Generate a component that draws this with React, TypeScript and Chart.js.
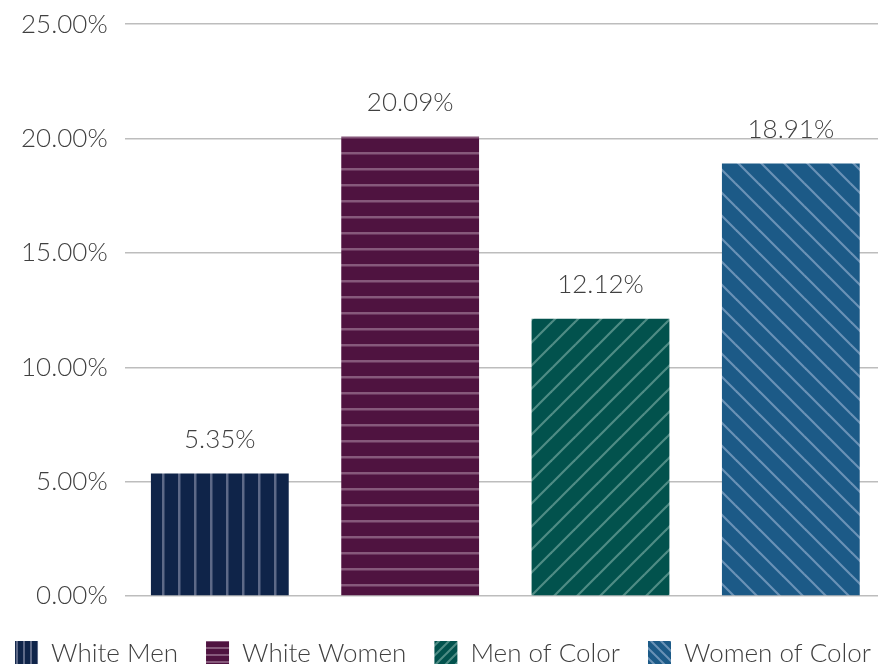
import React, { useEffect, useRef } from "react";
import { Chart, registerables } from "chart.js";

Chart.register(...registerables);

const categories = ["White Men", "White Women", "Men of Color", "Women of Color"];
const values = [5.35, 20.09, 12.12, 18.91];
const yTicks = [0, 5, 10, 15, 20, 25];
const baseColors = ["#0f2449", "#4f1340", "#02524d", "#1c5a87"];
const stripeColors = ["#5d6987", "#86597b", "#4f8c85", "#6a92b6"];
const patternKinds = ["vertical", "horizontal", "slash", "backslash"];

const FONT = "'Lato Light', Lato, 'Open Sans', sans-serif";
const TEXT_COLOR = "#404040";

function makePattern(kind: string, base: string, stripe: string, scale: number): CanvasPattern | string {
  const c = document.createElement("canvas");
  const diag = kind === "slash" || kind === "backslash";
  const s = Math.round((diag ? 23 : 16) * scale);
  c.width = s;
  c.height = s;
  const ctx = c.getContext("2d");
  if (!ctx) return base;
  ctx.fillStyle = base;
  ctx.fillRect(0, 0, s, s);
  ctx.strokeStyle = stripe;
  ctx.fillStyle = stripe;
  const w = scale < 1 ? 2 : 2.5;
  if (kind === "vertical") {
    ctx.fillRect(2, 0, w, s);
  } else if (kind === "horizontal") {
    ctx.fillRect(0, Math.floor(s / 2), s, w);
  } else {
    ctx.lineWidth = scale < 1 ? 2 : 2.2;
    const segs =
      kind === "slash"
        ? [
            [-2, s + 2, s + 2, -2],
            [-2, 2, 2, -2],
            [s - 2, s + 2, s + 2, s - 2],
          ]
        : [
            [-2, -2, s + 2, s + 2],
            [s - 2, -2, s + 2, 2],
            [-2, s - 2, 2, s + 2],
          ];
    for (const [x1, y1, x2, y2] of segs) {
      ctx.beginPath();
      ctx.moveTo(x1, y1);
      ctx.lineTo(x2, y2);
      ctx.stroke();
    }
  }
  const p = ctx.createPattern(c, "repeat");
  return p || base;
}

const valueLabelPlugin = {
  id: "valueLabels",
  afterDatasetsDraw(chart: any) {
    const ctx = chart.ctx;
    const meta = chart.getDatasetMeta(0);
    ctx.save();
    ctx.font = `300 26px ${FONT}`;
    ctx.fillStyle = TEXT_COLOR;
    ctx.textAlign = "center";
    ctx.textBaseline = "middle";
    meta.data.forEach((bar: any, i: number) => {
      ctx.fillText(values[i].toFixed(2) + "%", bar.x, bar.y - 34);
    });
    ctx.restore();
  },
};

function makeLegendPlugin(legendPatterns: (CanvasPattern | string)[]) {
  return {
    id: "patternLegend",
    afterDraw(chart: any) {
      const ctx = chart.ctx;
      const box = 23;
      const textGap = 13;
      const itemGap = 28;
      ctx.save();
      ctx.font = `300 26px ${FONT}`;
      const widths = categories.map((c) => box + textGap + ctx.measureText(c).width);
      const total = widths.reduce((a, b) => a + b, 0) + itemGap * (categories.length - 1);
      let x = chart.width / 2 - total / 2;
      const cy = chart.height - 16.5;
      categories.forEach((c, i) => {
        ctx.fillStyle = legendPatterns[i] as any;
        ctx.fillRect(x, cy - box / 2, box, box);
        ctx.fillStyle = TEXT_COLOR;
        ctx.textAlign = "left";
        ctx.textBaseline = "middle";
        ctx.fillText(c, x + box + textGap, cy + 1);
        x += widths[i] + itemGap;
      });
      ctx.restore();
    },
  };
}

export default function App() {
  const ref = useRef<HTMLCanvasElement>(null);
  useEffect(() => {
    if (!ref.current) return;
    const patterns = patternKinds.map((k, i) => makePattern(k, baseColors[i], stripeColors[i], 1));
    const legendPatterns = patternKinds.map((k, i) => makePattern(k, baseColors[i], stripeColors[i], 0.42));
    const chart = new Chart(ref.current, {
      type: "bar",
      data: {
        labels: categories,
        datasets: [
          {
            data: values,
            backgroundColor: patterns as any,
            borderWidth: 0,
            barPercentage: 0.724,
            categoryPercentage: 1,
          },
        ],
      },
      options: {
        animation: false,
        responsive: false,
        maintainAspectRatio: false,
        layout: { padding: { top: 0, left: 4, right: 0, bottom: 73 } },
        scales: {
          x: {
            display: false,
          },
          y: {
            min: 0,
            max: 25,
            afterBuildTicks(axis: any) {
              axis.ticks = yTicks.map((v) => ({ value: v }));
            },
            grid: { color: "#bdbdbd", lineWidth: 1.5, drawTicks: false },
            border: { display: false },
            ticks: {
              padding: 17,
              color: TEXT_COLOR,
              font: { family: FONT, size: 26, weight: "300" as any, lineHeight: 0.55 },
              callback: (v: any) => Number(v).toFixed(2) + "%",
            },
          },
        },
        plugins: {
          tooltip: { enabled: false },
          legend: { display: false },
        },
      },
      plugins: [valueLabelPlugin, makeLegendPlugin(legendPatterns)],
    });
    return () => chart.destroy();
  }, []);
  return (
    <div style={{ position: "fixed", left: 0, top: 0, width: 886, height: 669, background: "#fff" }}>
      <canvas ref={ref} width={886} height={669} style={{ display: "block" }} />
    </div>
  );
}
